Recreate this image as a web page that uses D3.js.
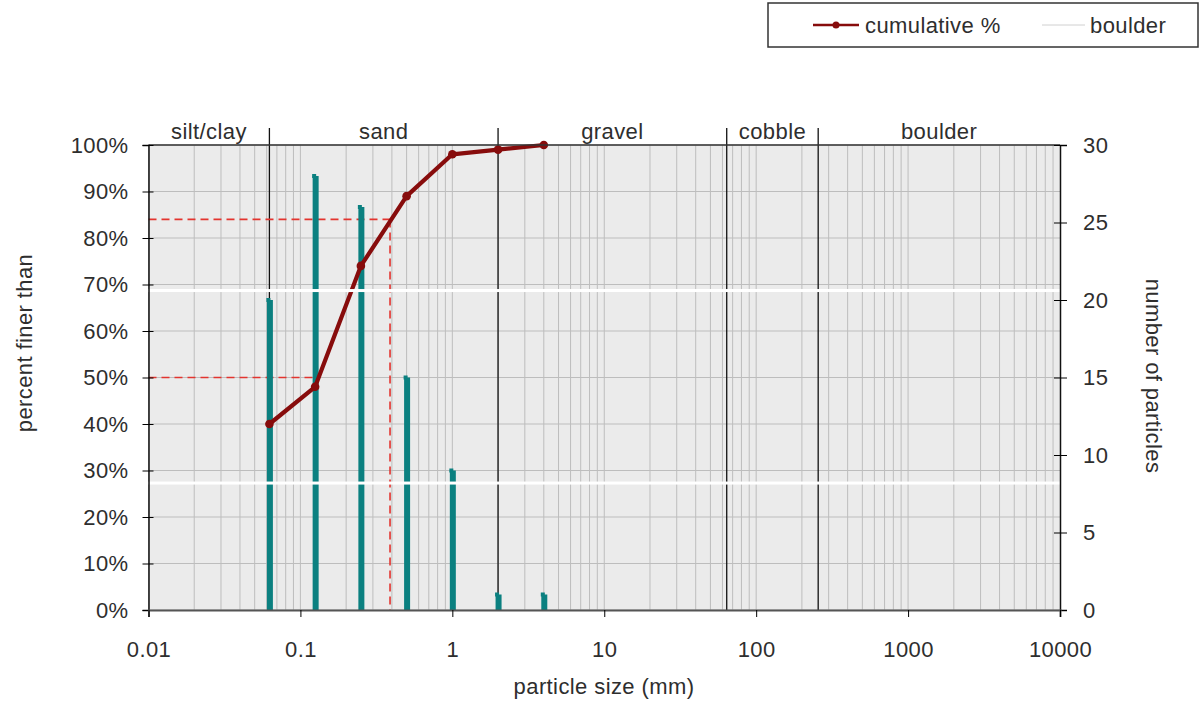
<!DOCTYPE html>
<html>
<head>
<meta charset="utf-8">
<script src="https://cdn.jsdelivr.net/npm/d3@7"></script>
<style>
  body { margin: 0; background: #fff; }
  svg text { font-family: Arial, "Liberation Sans", sans-serif; fill: #2e2e2e; letter-spacing: 0.4px; }
</style>
</head>
<body>
<div id="vis"></div>
<script>
// data
const sieveSizes = [0.0625, 0.125, 0.25, 0.5, 1, 2, 4]; // mm
const cumulativePct = [0.40, 0.48, 0.74, 0.89, 0.98, 0.99, 1.00];
const particleCounts = [20, 28, 26, 15, 9, 1, 1];
const xTickValues = [0.01, 0.1, 1, 10, 100, 1000, 10000];
const xTickLabels = ['0.01', '0.1', '1', '10', '100', '1000', '10000'];
const leftTicks = d3.range(0, 11).map(d => d / 10);
const rightTicks = [0, 5, 10, 15, 20, 25, 30];
const classBounds = [0.0625, 2, 64, 256];
const classNames = ['silt/clay', 'sand', 'gravel', 'cobble', 'boulder'];
const classEdges = [0.01, 0.0625, 2, 64, 256, 10000];
const d50 = { size: 0.1306, pct: 0.5 };
const d84 = { size: 0.389, pct: 0.84 };

// dimens
const W = 1203, H = 702;
const plot = { left: 148.5, right: 1060, top: 145, bottom: 610 };
const fs = 22;

const svg = d3.select('#vis').append('svg')
  .attr('width', W).attr('height', H);

const x = d3.scaleLog().domain([0.01, 10000]).range([plot.left, plot.right]);
const yL = d3.scaleLinear().domain([0, 1]).range([plot.bottom, plot.top]);
const yR = d3.scaleLinear().domain([0, 30]).range([plot.bottom, plot.top]);

// plot background
svg.append('rect')
  .attr('x', plot.left).attr('y', plot.top)
  .attr('width', plot.right - plot.left).attr('height', plot.bottom - plot.top)
  .attr('fill', '#ebebeb');

// minor log gridlines
const minors = [];
[0.01, 0.1, 1, 10, 100, 1000].forEach(dec => {
  for (let k = 1; k <= 9; k++) minors.push(dec * k);
});
svg.append('g').selectAll('line').data(minors).join('line')
  .attr('x1', d => x(d)).attr('x2', d => x(d))
  .attr('y1', plot.top).attr('y2', plot.bottom)
  .attr('stroke', '#bdbdbd').attr('stroke-width', 1);

// horizontal gridlines
svg.append('g').selectAll('line').data(leftTicks).join('line')
  .attr('x1', plot.left).attr('x2', plot.right)
  .attr('y1', d => yL(d)).attr('y2', d => yL(d))
  .attr('stroke', '#bdbdbd').attr('stroke-width', 1);

// class boundaries
svg.append('g').selectAll('line').data(classBounds).join('line')
  .attr('x1', d => x(d)).attr('x2', d => x(d))
  .attr('y1', 128).attr('y2', plot.bottom)
  .attr('stroke', '#111').attr('stroke-width', 1.3);

// class labels, centred in log space
const classMid = classNames.map((n, i) => ({
  name: n,
  mid: Math.sqrt(classEdges[i] * classEdges[i + 1])
}));
svg.append('g').selectAll('text').data(classMid).join('text')
  .attr('x', d => x(d.mid)).attr('y', 139)
  .attr('text-anchor', 'middle')
  .attr('font-size', fs)
  .text(d => d.name);

// dashed D50 / D84 lines
const dash = svg.append('g')
  .attr('stroke', '#e3342f').attr('stroke-width', 1.6)
  .attr('stroke-dasharray', '8,5').attr('fill', 'none');
dash.append('line')
  .attr('x1', plot.left).attr('x2', x(d50.size))
  .attr('y1', yL(d50.pct)).attr('y2', yL(d50.pct));
dash.append('line')
  .attr('x1', plot.left).attr('x2', x(d84.size))
  .attr('y1', yL(d84.pct)).attr('y2', yL(d84.pct));
dash.append('line')
  .attr('x1', x(d84.size)).attr('x2', x(d84.size))
  .attr('y1', yL(d84.pct)).attr('y2', plot.bottom);

// particle count bars (right axis)
const counts = sieveSizes.map((s, i) => ({ s, n: particleCounts[i] }));
const bars = svg.append('g').attr('fill', '#0b8080');
bars.selectAll('rect.bar').data(counts).join('rect')
  .attr('class', 'bar')
  .attr('x', d => x(d.s) - 2.5).attr('width', 6)
  .attr('y', d => yR(d.n)).attr('height', d => plot.bottom - yR(d.n));
// little shoulder at the top of each bar, as in the reference
bars.selectAll('rect.cap').data(counts).join('rect')
  .attr('class', 'cap')
  .attr('x', d => x(d.s) - 3).attr('width', 4)
  .attr('y', d => yR(d.n) - 2).attr('height', 4);

// cumulative curve
const cum = sieveSizes.map((s, i) => ({ s, p: cumulativePct[i] }));
svg.append('path').datum(cum)
  .attr('fill', 'none').attr('stroke', '#870c0c').attr('stroke-width', 4.2)
  .attr('stroke-linejoin', 'round')
  .attr('d', d3.line().x(d => x(d.s)).y(d => yL(d.p)));
svg.append('g').selectAll('circle').data(cum).join('circle')
  .attr('cx', d => x(d.s)).attr('cy', d => yL(d.p)).attr('r', 4.3)
  .attr('fill', '#870c0c');

// scan seams seen in the reference
svg.append('g').selectAll('rect').data([0.687, 0.273]).join('rect')
  .attr('x', 45).attr('width', 1063 - 45)
  .attr('y', d => yL(d) - 1.5).attr('height', 3)
  .attr('fill', '#fff');

// frame
svg.append('line')
  .attr('x1', plot.left).attr('x2', plot.right)
  .attr('y1', plot.top).attr('y2', plot.top)
  .attr('stroke', '#333').attr('stroke-width', 1.5);

// left axis
const axL = svg.append('g')
  .attr('transform', `translate(${plot.left},0)`)
  .call(d3.axisLeft(yL).tickValues(leftTicks).tickFormat(d3.format('.0%'))
    .tickSize(6).tickPadding(14));
axL.selectAll('.tick line').attr('x1', 5);
axL.select('.domain').attr('stroke', '#111').attr('stroke-width', 1.5);
axL.selectAll('.tick text').attr('font-size', fs).attr('font-family', null);

// right axis
const axR = svg.append('g')
  .attr('transform', `translate(${plot.right},0)`)
  .call(d3.axisRight(yR).tickValues(rightTicks).tickSize(7).tickPadding(16));
axR.selectAll('.tick line').attr('x1', -6);
axR.select('.domain').attr('stroke', '#111').attr('stroke-width', 1.5);
axR.selectAll('.tick text').attr('font-size', fs).attr('font-family', null);

// bottom axis
const axB = svg.append('g')
  .attr('transform', `translate(0,${plot.bottom})`)
  .call(d3.axisBottom(x).tickValues(xTickValues)
    .tickFormat((d, i) => xTickLabels[i]).tickSize(7).tickPadding(24));
axB.select('.domain').attr('stroke', '#555').attr('stroke-width', 2);
axB.selectAll('.tick text').attr('font-size', fs).attr('font-family', null);

// axis titles
svg.append('text')
  .attr('transform', `translate(32,343) rotate(-90)`)
  .attr('text-anchor', 'middle').attr('font-size', fs)
  .text('percent finer than');
svg.append('text')
  .attr('transform', `translate(1146,376) rotate(90)`)
  .attr('text-anchor', 'middle').attr('font-size', fs)
  .text('number of particles');
svg.append('text')
  .attr('x', 604).attr('y', 694)
  .attr('text-anchor', 'middle').attr('font-size', fs)
  .text('particle size (mm)');

// legend
const lg = svg.append('g');
lg.append('rect')
  .attr('x', 768).attr('y', 3).attr('width', 430).attr('height', 44)
  .attr('fill', '#fff').attr('stroke', '#333').attr('stroke-width', 1.5);
lg.append('line')
  .attr('x1', 813).attr('x2', 859).attr('y1', 25).attr('y2', 25)
  .attr('stroke', '#870c0c').attr('stroke-width', 2.5);
lg.append('circle').attr('cx', 836).attr('cy', 25).attr('r', 3.5).attr('fill', '#870c0c');
lg.append('text').attr('x', 865).attr('y', 33).attr('font-size', fs).text('cumulative %');
lg.append('line')
  .attr('x1', 1042).attr('x2', 1085).attr('y1', 25).attr('y2', 25)
  .attr('stroke', '#d0d0d0').attr('stroke-width', 1);
lg.append('text').attr('x', 1090).attr('y', 33).attr('font-size', fs).text('boulder');
</script>
</body>
</html>
